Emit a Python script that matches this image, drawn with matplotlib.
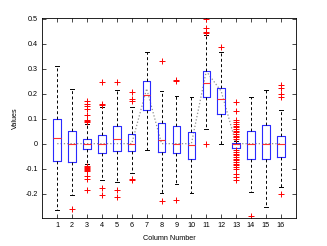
import matplotlib
matplotlib.use('Agg')
import matplotlib.pyplot as plt

plt.rcParams['font.family'] = ['Liberation Sans', 'DejaVu Sans']

cols = list(range(1, 17))
med = [0.023, 0.0, 0.0, 0.0, 0.02, 0.0, 0.196, 0.016, 0.0, -0.006, 0.244, 0.177, 0.0, 0.0, 0.0, 0.0]
q1 = [-0.07, -0.073, -0.021, -0.037, -0.028, -0.031, 0.136, -0.034, -0.037, -0.063, 0.188, 0.12, -0.016, -0.063, -0.06, -0.053]
q3 = [0.097, 0.05, 0.019, 0.035, 0.069, 0.04, 0.249, 0.084, 0.069, 0.047, 0.29, 0.224, 0.004, 0.051, 0.073, 0.032]
whis_lo = [-0.267, -0.205, -0.081, -0.144, -0.155, -0.116, -0.024, -0.197, -0.163, -0.198, 0.057, 0.0, -0.024, -0.195, -0.252, -0.173]
whis_hi = [0.309, 0.22, 0.077, 0.145, 0.213, 0.148, 0.369, 0.209, 0.19, 0.188, 0.435, 0.369, 0.01, 0.188, 0.213, 0.136]
outliers = [
    [],
    [-0.262],
    [0.17, 0.16, 0.15, 0.14, 0.115, 0.095, 0.09, 0.085,
     -0.09, -0.094, -0.098, -0.102, -0.106, -0.11, -0.128, -0.141, -0.184],
    [0.245, 0.159, 0.153, -0.178, -0.205],
    [0.245, -0.187, -0.213],
    [0.206, 0.177, 0.172, -0.141, -0.146],
    [],
    [0.33, -0.231],
    [0.254, 0.249, -0.224],
    [],
    [0.5, 0.462, 0.447, 0.442, 0.0],
    [0.386],
    [0.166, 0.132, 0.093, 0.085, 0.08, 0.072, 0.065, 0.06, 0.052, 0.045, 0.038, 0.03, 0.025, 0.018,
     -0.027, -0.033, -0.04, -0.047, -0.053, -0.06, -0.067, -0.073, -0.08, -0.087, -0.095,
     -0.103, -0.12, -0.133, -0.147],
    [-0.29],
    [],
    [0.235, 0.223, 0.197, 0.185, -0.2],
]
trend = [0, 0, 0, 0, 0, 0, 0.22, 0, 0, 0, 0.29, 0.21, 0, 0, 0, 0]

stats = []
for i in range(len(cols)):
    stats.append({'med': med[i], 'q1': q1[i], 'q3': q3[i],
                  'whislo': whis_lo[i], 'whishi': whis_hi[i], 'fliers': outliers[i]})

fig = plt.figure(figsize=(3.27, 2.46), dpi=100)
ax = fig.add_axes([0.1294, 0.1126, 0.7749, 0.8130])

ax.plot(cols, trend, linestyle=':', color='#909090', linewidth=0.9, zorder=1)

ax.bxp(stats, positions=cols, widths=0.5, capwidths=0.25, manage_ticks=False,
       boxprops=dict(color='#2a2aff', linewidth=0.8),
       whiskerprops=dict(color='black', linestyle=(0, (3, 2.5)), linewidth=0.7),
       capprops=dict(color='black', linewidth=0.7),
       medianprops=dict(color='#ff3030', linewidth=0.8),
       flierprops=dict(marker='+', markeredgecolor='red', markersize=4, markeredgewidth=0.7,
                       linestyle='none'))

ax.set_xlim(0, 17)
ax.set_ylim(-0.299, 0.502)
ax.set_xticks(cols)
ax.set_xticklabels([str(c) for c in cols])
ax.set_yticks([-0.2, -0.1, 0, 0.1, 0.2, 0.3, 0.4, 0.5])
ax.set_yticklabels(['-0.2', '-0.1', '0', '0.1', '0.2', '0.3', '0.4', '0.5'])
ax.tick_params(direction='in', top=True, right=True, length=3, width=0.5, labelsize=5.2, pad=3)
for s in ax.spines.values():
    s.set_linewidth(0.6)

ax.set_xlabel('Column Number', fontsize=5.2, labelpad=4)
ax.set_ylabel('Values', fontsize=5.2, labelpad=5)

fig.savefig('out.png', dpi=100)
